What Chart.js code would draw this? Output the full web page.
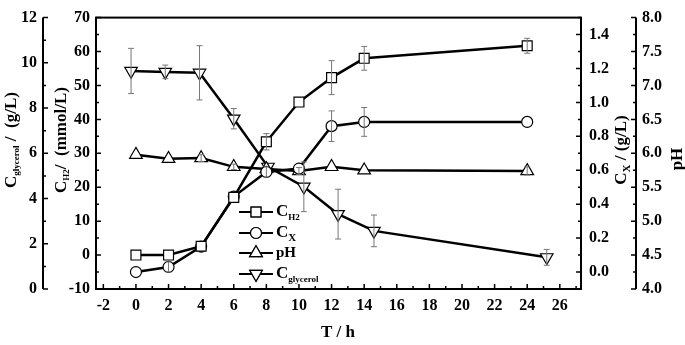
<!DOCTYPE html>
<html>
<head>
<meta charset="utf-8">
<script src="https://cdn.jsdelivr.net/npm/chart.js@4.4.0/dist/chart.umd.min.js"></script>
<style>
  html, body { margin: 0; padding: 0; background: #fff; }
</style>
</head>
<body>
<canvas id="chart" width="685" height="345"></canvas>
<script>
// Data
const timeMain = [0, 2, 4, 6, 8, 10, 12, 14, 24];
const h2 = [0, 0, 2.6, 17, 33.4, 45.1, 52.3, 58.0, 61.7];
const h2Err = [0, 0, 0, 0, 2.4, 0, 5, 3.5, 2.2];
const cx = [0, 0.03, 0.15, 0.445, 0.59, 0.61, 0.86, 0.885, 0.885];
const cxErr = [0, 0.03, 0, 0, 0.03, 0, 0.09, 0.085, 0];
const ph = [5.98, 5.92, 5.93, 5.80, 5.77, 5.74, 5.80, 5.75, 5.74];
const phErr = [0, 0, 0.05, 0.04, 0, 0.05, 0, 0, 0.06];
const timeGly = [-0.3, 1.8, 3.9, 6.0, 8.1, 10.3, 12.4, 14.6, 25.2];
const gly = [9.64, 9.6, 9.56, 7.53, 5.4, 4.52, 3.31, 2.57, 1.4];
const glyErr = [1.0, 0.3, 1.2, 0.45, 0, 1.1, 1.1, 0.7, 0.35];

// Tick labels
const xTicks = [-2, 0, 2, 4, 6, 8, 10, 12, 14, 16, 18, 20, 22, 24, 26];
const h2Ticks = [-10, 0, 10, 20, 30, 40, 50, 60, 70];
const glyTicks = [0, 2, 4, 6, 8, 10, 12];
const cxTicks = [0, 0.2, 0.4, 0.6, 0.8, 1.0, 1.2, 1.4];
const phTicks = [4.0, 4.5, 5.0, 5.5, 6.0, 6.5, 7.0, 7.5, 8.0];

const SERIF = '"Liberation Serif", "Times New Roman", serif';
const tickFont = { family: SERIF, size: 16, weight: 'bold' };

const toXY = (xs, ys) => xs.map((x, i) => ({ x: x, y: ys[i] }));
const setTicks = (vals) => (scale) => { scale.ticks = vals.map(v => ({ value: v })); };

function series(label, xs, ys, err, axis, style, radius, rotation) {
    return {
        label: label,
        data: toXY(xs, ys),
        errors: err,
        yAxisID: axis,
        borderColor: '#000',
        borderWidth: 2.5,
        pointStyle: style,
        pointRadius: radius,
        pointRotation: rotation || 0,
        pointBackgroundColor: '#fff',
        pointBorderColor: '#000',
        pointBorderWidth: 1.2,
        tension: 0,
        fill: false
    };
}

// Error bars, drawn from the data through each dataset's y scale
const errorBars = {
    id: 'errorBars',
    afterDatasetsDraw(chart) {
        const ctx = chart.ctx;
        ctx.save();
        ctx.strokeStyle = '#777';
        ctx.lineWidth = 1;
        chart.data.datasets.forEach((ds, di) => {
            const meta = chart.getDatasetMeta(di);
            const ys = chart.scales[ds.yAxisID];
            ds.data.forEach((d, i) => {
                const e = ds.errors[i];
                if (!e) return;
                const px = meta.data[i].x;
                const top = ys.getPixelForValue(d.y + e);
                const bot = ys.getPixelForValue(d.y - e);
                ctx.beginPath();
                ctx.moveTo(px, top); ctx.lineTo(px, bot);
                ctx.moveTo(px - 3, top); ctx.lineTo(px + 3, top);
                ctx.moveTo(px - 3, bot); ctx.lineTo(px + 3, bot);
                ctx.stroke();
            });
        });
        ctx.restore();
    }
};

// rich text with subscripts, centred at (x, y), rotated by rot
function richText(ctx, x, y, rot, parts) {
    ctx.save();
    ctx.translate(x, y);
    ctx.rotate(rot);
    ctx.textBaseline = 'middle';
    ctx.textAlign = 'left';
    let total = 0;
    parts.forEach(p => { ctx.font = p.f; total += ctx.measureText(p.t).width; });
    let cur = -total / 2;
    parts.forEach(p => {
        ctx.font = p.f;
        ctx.fillText(p.t, cur, p.dy || 0);
        cur += ctx.measureText(p.t).width;
    });
    ctx.restore();
}

const big = 'bold 17px ' + SERIF;
const sub = 'bold 9px ' + SERIF;

// Frame, inward ticks, extra axis lines, titles and legend
const decorations = {
    id: 'decorations',
    afterDraw(chart) {
        const ctx = chart.ctx;
        const a = chart.chartArea;
        const sx = chart.scales.x, sH = chart.scales.yH, sG = chart.scales.yG;
        const sX = chart.scales.yX, sP = chart.scales.yP;
        ctx.save();
        ctx.strokeStyle = '#000';
        ctx.fillStyle = '#000';
        ctx.lineWidth = 2;
        ctx.strokeRect(a.left, a.top, a.right - a.left, a.bottom - a.top);
        const gx = sG.right, pxl = sP.left;
        ctx.beginPath();
        ctx.moveTo(gx, a.top); ctx.lineTo(gx, a.bottom);
        ctx.moveTo(pxl, a.top); ctx.lineTo(pxl, a.bottom);
        ctx.stroke();

        ctx.lineWidth = 1.5;
        function vTicks(scale, pos, dir, step, minor) {
            ctx.beginPath();
            for (let v = scale.min; v <= scale.max + 1e-9; v += minor / 100) {}
            const start = Math.ceil(scale.min / minor - 1e-6);
            const end = Math.floor(scale.max / minor + 1e-6);
            for (let k = start; k <= end; k++) {
                const v = k * minor;
                const isMajor = Math.abs(v / step - Math.round(v / step)) < 1e-6;
                const len = isMajor ? 5 : 3;
                const p = scale.getPixelForValue(v);
                if (scale.isHorizontal()) {
                    ctx.moveTo(p, pos); ctx.lineTo(p, pos - len);
                } else {
                    ctx.moveTo(pos, p); ctx.lineTo(pos + dir * len, p);
                }
            }
            ctx.stroke();
        }
        vTicks(sx, a.bottom, 0, 2, 1);
        vTicks(sH, a.left, 1, 10, 5);
        vTicks(sG, gx, 1, 2, 1);
        vTicks(sX, a.right, -1, 0.2, 0.1);
        vTicks(sP, pxl, -1, 0.5, 0.25);

        // axis titles
        richText(ctx, 12, 140, -Math.PI / 2, [
            { t: 'C', f: big }, { t: 'glycerol', f: sub, dy: 5 }, { t: ' /  (g/L)', f: big }]);
        richText(ctx, 62, 140, -Math.PI / 2, [
            { t: 'C', f: big }, { t: 'H2', f: sub, dy: 5 }, { t: '/  (mmol/L)', f: big }]);
        richText(ctx, 622, 150, -Math.PI / 2, [
            { t: 'C', f: big }, { t: 'X', f: 'bold 11px ' + SERIF, dy: 5 }, { t: ' / (g/L)', f: big }]);
        richText(ctx, 678, 159, -Math.PI / 2, [{ t: 'pH', f: big }]);
        richText(ctx, 338, 333, 0, [{ t: 'T / h', f: big }]);

        // legend
        const rows = [212, 233, 253, 274];
        const labels = [
            [{ t: 'C', f: big }, { t: 'H2', f: sub, dy: 6 }],
            [{ t: 'C', f: big }, { t: 'X', f: 'bold 11px ' + SERIF, dy: 5 }],
            [{ t: 'pH', f: 'bold 15px ' + SERIF }],
            [{ t: 'C', f: big }, { t: 'glycerol', f: sub, dy: 6 }]
        ];
        chart.data.datasets.forEach((ds, i) => {
            const y = rows[i];
            ctx.lineWidth = 2;
            ctx.strokeStyle = '#000';
            ctx.beginPath();
            ctx.moveTo(239, y); ctx.lineTo(273, y);
            ctx.stroke();
            ctx.fillStyle = '#fff';
            ctx.lineWidth = 1.2;
            Chart.helpers.drawPoint(ctx, {
                pointStyle: ds.pointStyle, radius: ds.pointRadius,
                rotation: ds.pointRotation, borderWidth: 1.2
            }, 256, y);
            ctx.fill();
            ctx.stroke();
            ctx.fillStyle = '#000';
            let w = 0;
            labels[i].forEach(p => { ctx.font = p.f; w += ctx.measureText(p.t).width; });
            richText(ctx, 276 + w / 2, y, 0, labels[i]);
        });
        ctx.restore();
    }
};

const yBase = {
    grid: { display: false, drawTicks: false },
    border: { display: false },
    ticks: { font: tickFont, color: '#000', padding: 6 }
};

new Chart(document.getElementById('chart').getContext('2d'), {
    type: 'line',
    data: {
        datasets: [
            series('CH2', timeMain, h2, h2Err, 'yH', 'rect', 7),
            series('CX', timeMain, cx, cxErr, 'yX', 'circle', 5.5),
            series('pH', timeMain, ph, phErr, 'yP', 'triangle', 7.3),
            series('Cglycerol', timeGly, gly, glyErr, 'yG', 'triangle', 7.2, 180)
        ]
    },
    options: {
        responsive: false,
        animation: false,
        layout: { padding: { top: 10, left: 0, right: 0, bottom: 0 } },
        plugins: { legend: { display: false }, tooltip: { enabled: false } },
        scales: {
            x: {
                type: 'linear', position: 'bottom', min: -2.45, max: 27.3,
                grid: { display: false, drawTicks: false },
                border: { display: false },
                ticks: { font: tickFont, color: '#000', padding: 7 },
                afterBuildTicks: setTicks(xTicks),
                afterFit: (s) => { s.height = 56; }
            },
            yH: Object.assign({}, yBase, {
                position: 'left', min: -10, max: 70,
                afterBuildTicks: setTicks(h2Ticks),
                afterFit: (s) => { s.width = 53; }
            }),
            yG: Object.assign({}, yBase, {
                position: 'left', min: 0, max: 12,
                afterBuildTicks: setTicks(glyTicks),
                afterFit: (s) => { s.width = 43; }
            }),
            yX: Object.assign({}, yBase, {
                position: 'right', min: -0.1, max: 1.5,
                ticks: { font: tickFont, color: '#000', padding: 8,
                    callback: (v) => v.toFixed(1) },
                afterBuildTicks: setTicks(cxTicks),
                afterFit: (s) => { s.width = 55; }
            }),
            yP: Object.assign({}, yBase, {
                position: 'right', min: 4, max: 8,
                ticks: { font: tickFont, color: '#000', padding: 6,
                    callback: (v) => v.toFixed(1) },
                afterBuildTicks: setTicks(phTicks),
                afterFit: (s) => { s.width = 49; }
            })
        }
    },
    plugins: [errorBars, decorations]
});
</script>
</body>
</html>
